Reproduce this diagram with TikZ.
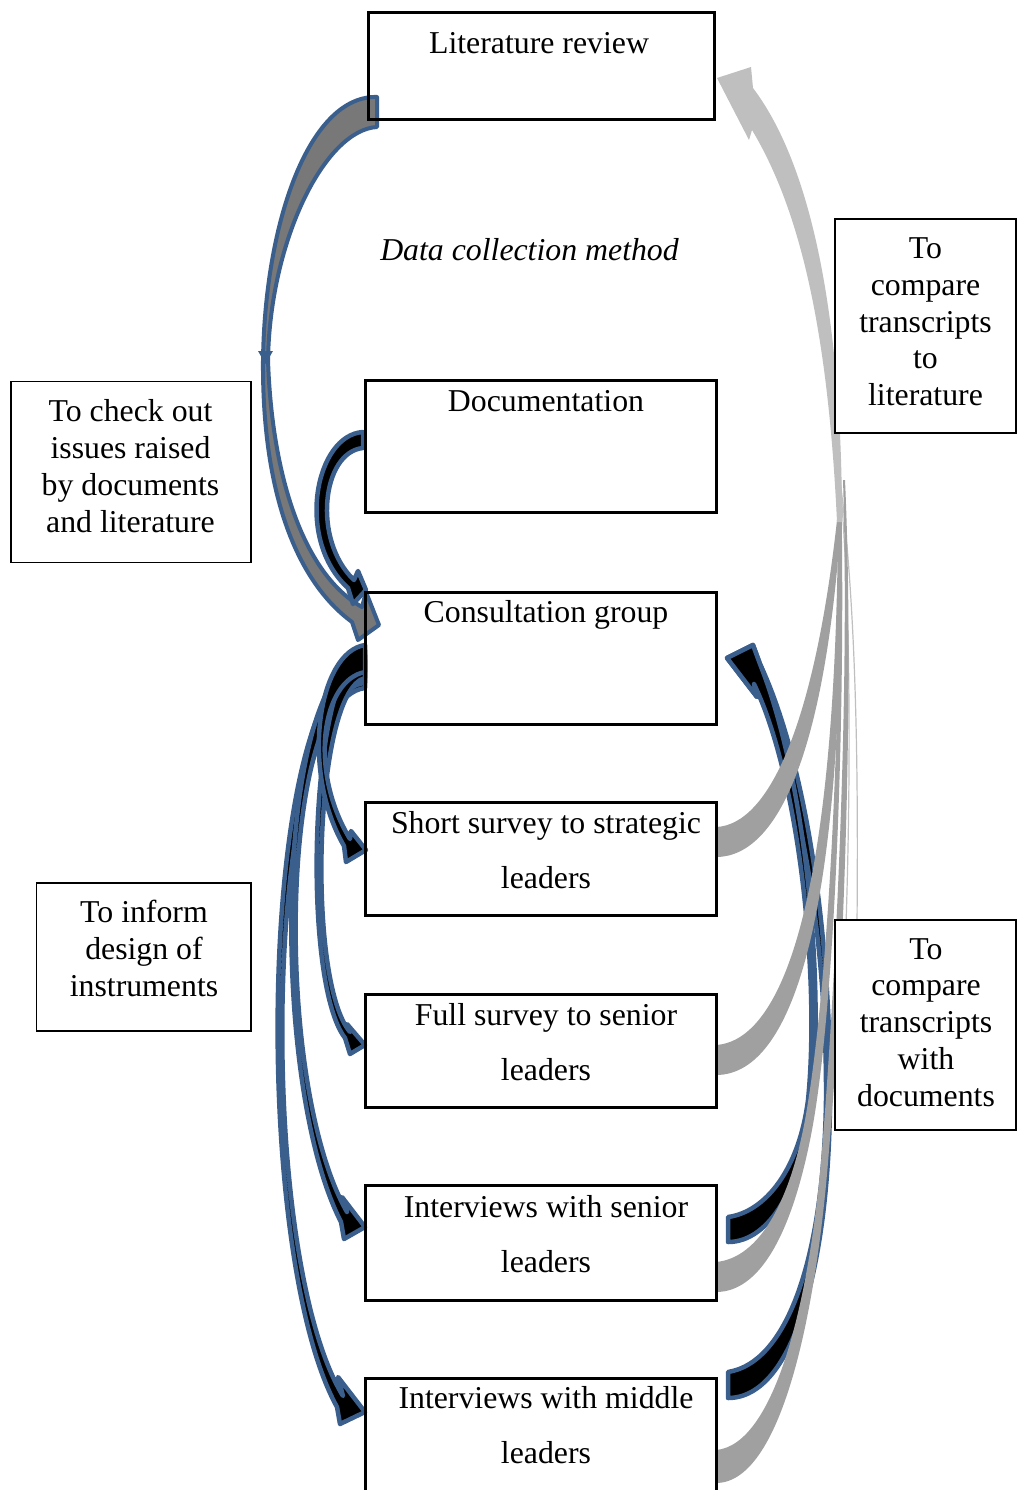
\documentclass[tikz,border=0pt]{standalone}
\usepackage{fontspec}
\setmainfont{Liberation Serif}
\newcommand{\mlines}[1]{\begin{tabular}[t]{@{}c@{}}#1\end{tabular}}
\definecolor{wblue}{RGB}{58,95,140}
\definecolor{agray}{RGB}{120,120,120}
\definecolor{lgray}{RGB}{191,191,191}
\definecolor{mgray}{RGB}{160,160,160}
\begin{document}
\begin{tikzpicture}[x=1pt,y=-1pt,
  mainbox/.style={draw=black, line width=3pt, anchor=north west, inner sep=0pt, outer sep=0pt},
  sidebox/.style={draw=black, fill=white, line width=1.5pt, anchor=north west, inner sep=0pt, outer sep=0pt},
  maintxt/.style={anchor=base, inner sep=0pt, font=\fontsize{31.8}{55}\selectfont},
  sidetxt/.style={anchor=base, inner sep=0pt, font=\fontsize{31.8}{36.8}\selectfont},
  bluearrow/.style={fill=black, draw=wblue, line width=4.5pt, line join=round},
  grayblue/.style={fill=agray, draw=wblue, line width=4pt, line join=round},
  grayhead/.style={fill=lgray},
  graytail/.style={fill=mgray},
  thinline/.style={draw=lgray, line width=1.2pt}
]
\useasboundingbox (0,0) rectangle (1017,1490);
\clip (0,0) rectangle (1017,1490);

% ---- left blue arrows from consultation group
\draw[bluearrow] (365,660) .. controls (258,680) and (250,1250) .. (337,1407) -- (340,1424) -- (365,1412) -- (338,1377) -- (343,1396) .. controls (254,1250) and (264,700) .. (365,688) -- cycle;
\draw[bluearrow] (365,655) .. controls (275,670) and (268,1080) .. (341,1222) -- (344,1239) -- (365,1227) -- (342,1197) -- (347,1212) .. controls (272,1080) and (280,690) .. (365,683) -- cycle;
\draw[bluearrow] (365,650) .. controls (310,660) and (300,980) .. (345,1038) -- (350,1054) -- (365,1045) -- (347,1024) -- (350,1032) .. controls (306,980) and (314,690) .. (365,678) -- cycle;
\draw[bluearrow] (365,645) .. controls (318,652) and (300,770) .. (344,846) -- (346,862) -- (366,850) -- (351,831) -- (350,839) .. controls (308,770) and (322,680) .. (365,672) -- cycle;

% ---- literature review -> consultation group
\draw[grayblue] (377,97) .. controls (310,95) and (265,220) .. (263,360)
  .. controls (262,490) and (295,580) .. (352,622)
  -- (358,640) -- (379,625) -- (366,592) -- (362,607)
  .. controls (305,575) and (272,480) .. (268,360)
  .. controls (270,240) and (325,130) .. (377,127) -- cycle;
\fill[wblue] (258,351) -- (273,351) -- (265.5,364) -- cycle;

% ---- documentation -> consultation group
\draw[bluearrow] (363,432) .. controls (315,435) and (295,540) .. (348,588) -- (353,604) -- (366,590) -- (358,571) -- (354,580) .. controls (312,540) and (322,452) .. (363,448) -- cycle;

% ---- right blue arrows (interviews -> consultation group)
\draw[bluearrow] (728,1372) .. controls (790,1362) and (824,1250) .. (826,1100) .. controls (827,930) and (797,770) .. (754,684) -- (757,697) -- (727,658) -- (753,645) -- (760,664) .. controls (805,760) and (831,930) .. (830,1100) .. controls (829,1260) and (795,1398) .. (728,1398) -- cycle;
\draw[bluearrow] (728,1217) .. controls (765,1212) and (799,1170) .. (808,1100) .. controls (820,980) and (800,780) .. (754,684) -- (757,697) -- (727,658) -- (753,645) -- (760,664) .. controls (806,780) and (824,980) .. (812,1100) .. controls (803,1185) and (770,1242) .. (728,1242) -- cycle;

% ---- gray arrows to literature review
\draw[thinline] (840,480) .. controls (858,620) and (858,800) .. (857,925);
\draw[thinline] (840,480) .. controls (852,620) and (850,800) .. (846,925);
\fill[graytail] (716,1450) .. controls (775,1445) and (810,1300) .. (822,1150) .. controls (835,990) and (850,700) .. (843,480) -- (845,480) .. controls (855,700) and (842,1000) .. (829,1150) .. controls (816,1320) and (780,1483) .. (716,1483) -- cycle;
\fill[graytail] (716,1262) .. controls (760,1258) and (790,1200) .. (805,1120) .. controls (830,980) and (842,700) .. (839,480) -- (841,480) .. controls (846,700) and (836,1000) .. (812,1130) .. controls (795,1220) and (765,1292) .. (716,1292) -- cycle;
\fill[graytail] (716,1045) .. controls (790,1040) and (836,870) .. (838,520) -- (841,520) .. controls (845,900) and (797,1075) .. (716,1075) -- cycle;
\fill[graytail] (716,827) .. controls (770,825) and (815,720) .. (837,520) -- (841,520) .. controls (826,745) and (780,857) .. (716,857) -- cycle;
\fill[grayhead] (837,522) .. controls (828,330) and (800,210) .. (752,130) -- (749,140) -- (717,78) -- (751,67) -- (753,88) .. controls (815,170) and (842,330) .. (842,522) -- cycle;

% ---- main boxes
\node[mainbox, minimum width=345.5pt, minimum height=107pt] (lit) at (368.5,13) {};
\node[mainbox, minimum width=351pt, minimum height=132pt] (doc) at (365,380) {};
\node[mainbox, minimum width=351pt, minimum height=132pt] (cons) at (365,592) {};
\node[mainbox, minimum width=351pt, minimum height=113pt] (short) at (365,802) {};
\node[mainbox, minimum width=351pt, minimum height=113pt] (full) at (365,994) {};
\node[mainbox, minimum width=351pt, minimum height=115pt] (senior) at (365,1185) {};
\node[mainbox, minimum width=351pt, minimum height=150pt] (middle) at (365,1378) {};

\node[maintxt] (littxt) at (539,54) {Literature review};
\node[maintxt] (doctxt) at (546,411) {Documentation};
\node[maintxt] (constxt) at (546,622) {Consultation group};
\node[maintxt] (shorttxt) at (546,833) {\mlines{Short survey to strategic\\leaders}};
\node[maintxt] (fulltxt) at (546,1025) {\mlines{Full survey to senior\\leaders}};
\node[maintxt] (seniortxt) at (546,1217) {\mlines{Interviews with senior\\leaders}};
\node[maintxt] (middletxt) at (546,1408) {\mlines{Interviews with middle\\leaders}};

\node[maintxt, font=\fontsize{31.8}{38}\selectfont\itshape] (title) at (529.5,260) {Data collection method};

% ---- side boxes
\node[sidebox, minimum width=240pt, minimum height=181pt] (chk) at (11,381.5) {};
\node[sidetxt] (chktxt) at (130.5,421.7) {\mlines{To check out\\issues raised\\by documents\\and literature}};
\node[sidebox, minimum width=214.5pt, minimum height=148pt] (inform) at (36.5,883) {};
\node[sidetxt] (informtxt) at (144,922.5) {\mlines{To inform\\design of\\instruments}};
\node[sidebox, minimum width=181pt, minimum height=214pt] (cmplit) at (835,219) {};
\node[sidetxt] (cmplittxt) at (925.5,258.5) {\mlines{To\\compare\\transcripts\\to\\literature}};
\node[sidebox, minimum width=181pt, minimum height=210pt] (cmpdoc) at (835,920) {};
\node[sidetxt] (cmpdoctxt) at (926,959) {\mlines{To\\compare\\transcripts\\with\\documents}};
\end{tikzpicture}
\end{document}
